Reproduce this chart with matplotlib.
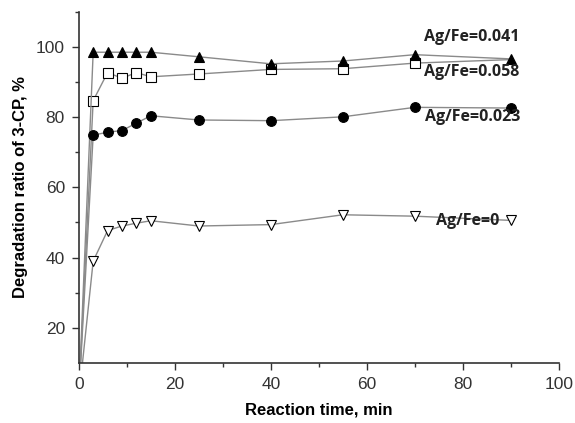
import numpy as np
import matplotlib.pyplot as plt
from matplotlib.ticker import MultipleLocator

time = [0, 3, 6, 9, 12, 15, 25, 40, 55, 70, 90]
ratio_0041 = [0, 98.5, 98.5, 98.5, 98.5, 98.5, 97.2, 95.2, 96.0, 97.8, 96.6]
ratio_0058 = [0, 84.7, 92.7, 91.1, 92.7, 91.5, 92.3, 93.6, 93.8, 95.4, 96.4]
ratio_0023 = [0, 74.9, 75.7, 76.2, 78.3, 80.4, 79.2, 79.0, 80.1, 82.8, 82.6]
ratio_0 = [0, 39.0, 47.7, 49.0, 49.8, 50.5, 49.0, 49.4, 52.2, 51.8, 50.6]

labels = ['Ag/Fe=0.041', 'Ag/Fe=0.058', 'Ag/Fe=0.023', 'Ag/Fe=0']
label_pos = [(81.8, 102.8), (81.8, 92.9), (82.0, 80.0), (81.0, 50.4)]

plt.rcParams['font.family'] = ['Liberation Sans', 'DejaVu Sans']

fig = plt.figure(figsize=(5.75, 4.23), dpi=100)
ax = fig.add_axes([0.137, 0.142, 0.835, 0.830])

line_kw = dict(color='#8a8a8a', lw=1.0, markeredgecolor='black',
               markeredgewidth=0.8, markersize=7)
# last square sits under the triangle, no marker there
ax.plot(time, ratio_0058, marker='s', markerfacecolor='white',
        markevery=list(range(len(time) - 1)), **line_kw)
ax.plot(time, ratio_0041, marker='^', markerfacecolor='black', **line_kw)
ax.plot(time, ratio_0023, marker='o', markerfacecolor='black', **line_kw)
ax.plot(time, ratio_0, marker='v', markerfacecolor='white', **line_kw)

for lab, (x, y) in zip(labels, label_pos):
    ax.text(x, y, lab, ha='center', va='center', fontsize=11.5,
            fontweight='bold', color='#222222', family=['Open Sans', 'DejaVu Sans'])

ax.set_xlim(0, 100)
ax.set_ylim(10, 110)
ax.xaxis.set_major_locator(MultipleLocator(20))
ax.xaxis.set_minor_locator(MultipleLocator(10))
ax.set_yticks([20, 40, 60, 80, 100])
ax.set_yticks([30, 50, 70, 90, 110], minor=True)

ax.spines['top'].set_visible(False)
ax.spines['right'].set_visible(False)
for s in ['left', 'bottom']:
    ax.spines[s].set_linewidth(1.2)
    ax.spines[s].set_color('#333333')

ax.tick_params(which='major', direction='out', length=5, width=1.0,
               labelsize=12.5, colors='#333333', pad=5)
ax.tick_params(which='minor', direction='out', length=3, width=1.0,
               colors='#333333')

ax.set_xlabel('Reaction time, min', fontsize=12, fontweight='bold', labelpad=8)
ax.set_ylabel('Degradation ratio of 3-CP, %', fontsize=12, fontweight='bold',
              labelpad=6)

plt.savefig('out.png', dpi=100)
